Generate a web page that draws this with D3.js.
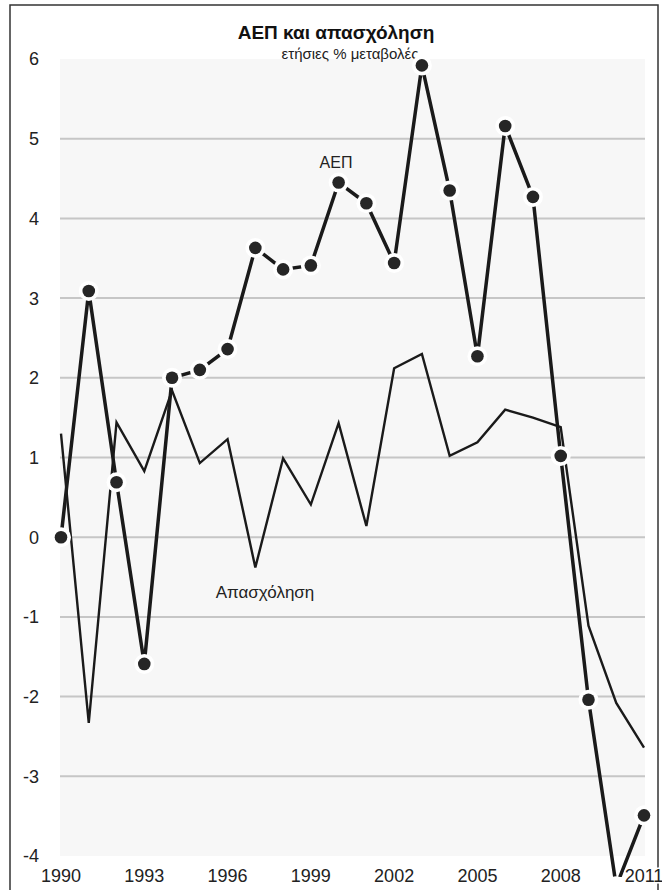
<!DOCTYPE html>
<html>
<head>
<meta charset="utf-8">
<script src="https://cdn.jsdelivr.net/npm/d3@7"></script>
<style>
  body { margin: 0; background: #fff; }
  svg { display: block; font-family: "Liberation Sans", Arial, Helvetica, sans-serif; }
</style>
</head>
<body>
<div id="chart"></div>
<script>
// years on the x axis
const years = [1990, 1991, 1992, 1993, 1994, 1995, 1996, 1997, 1998, 1999, 2000,
               2001, 2002, 2003, 2004, 2005, 2006, 2007, 2008, 2009, 2010, 2011];
// ΑΕΠ, annual % change (line with dots)
const gdp = [0.0, 3.09, 0.69, -1.59, 2.0, 2.1, 2.36, 3.63, 3.36, 3.41, 4.45,
             4.19, 3.44, 5.92, 4.35, 2.27, 5.16, 4.27, 1.02, -2.04, -4.38, -3.49];
// Απασχόληση, annual % change (thin line)
const employment = [1.3, -2.33, 1.44, 0.83, 1.84, 0.93, 1.23, -0.38, 0.99, 0.41, 1.43,
                    0.14, 2.12, 2.3, 1.02, 1.19, 1.6, 1.5, 1.38, -1.11, -2.08, -2.64];
const yTicks = [-4, -3, -2, -1, 0, 1, 2, 3, 4, 5, 6];
const xTicks = [1990, 1993, 1996, 1999, 2002, 2005, 2008, 2011];
const gridValues = [-3, -2, -1, 0, 1, 2, 3, 4, 5];

const width = 662, height = 890;

const svg = d3.select('#chart').append('svg')
    .attr('width', width)
    .attr('height', height);

// outer frame
svg.append('rect')
    .attr('x', 10).attr('y', 5)
    .attr('width', 648).attr('height', 900)
    .attr('fill', '#fff')
    .attr('stroke', '#333')
    .attr('stroke-width', 1.5);

const x = d3.scaleLinear().domain([1990, 2011]).range([61, 644]);
const y = d3.scaleLinear().domain([-4, 6]).range([856, 59]);

// plot background
svg.append('rect')
    .attr('x', 60).attr('y', y(6))
    .attr('width', 645 - 60).attr('height', y(-4) - y(6))
    .attr('fill', '#f7f7f7');

// gridlines
svg.append('g')
    .selectAll('line')
    .data(gridValues)
    .enter()
    .append('line')
    .attr('x1', 60).attr('x2', 645)
    .attr('y1', d => y(d)).attr('y2', d => y(d))
    .attr('stroke', '#c6c6c6')
    .attr('stroke-width', 2);

// y labels
svg.append('g')
    .selectAll('text')
    .data(yTicks)
    .enter()
    .append('text')
    .attr('x', 39)
    .attr('y', d => y(d))
    .attr('dy', '0.36em')
    .attr('text-anchor', 'end')
    .attr('font-size', 18)
    .attr('fill', '#222')
    .text(d => d);

// title
svg.append('text')
    .attr('x', 336).attr('y', 39)
    .attr('text-anchor', 'middle')
    .attr('font-size', 19)
    .attr('font-weight', 'bold')
    .attr('fill', '#111')
    .text('ΑΕΠ και απασχόληση');
svg.append('text')
    .attr('x', 350).attr('y', 58.5)
    .attr('text-anchor', 'middle')
    .attr('font-size', 15)
    .attr('fill', '#222')
    .text('ετήσιες % μεταβολές');

// data layer, clipped above the year labels
svg.append('clipPath').attr('id', 'clip')
    .append('rect').attr('x', 0).attr('y', 0).attr('width', width).attr('height', 877);

const plot = svg.append('g').attr('clip-path', 'url(#clip)');

const empData = years.map((yr, i) => ({ year: yr, value: employment[i] }));
const gdpData = years.map((yr, i) => ({ year: yr, value: gdp[i] }));

const line = d3.line()
    .x(d => x(d.year))
    .y(d => y(d.value));

plot.append('path')
    .datum(empData)
    .attr('d', line)
    .attr('fill', 'none')
    .attr('stroke', '#1a1a1a')
    .attr('stroke-width', 2.4)
    .attr('stroke-linejoin', 'miter');

plot.append('path')
    .datum(gdpData)
    .attr('d', line)
    .attr('fill', 'none')
    .attr('stroke', '#1a1a1a')
    .attr('stroke-width', 3.5);

// white halo round each dot, then the dot
plot.append('g')
    .selectAll('circle')
    .data(gdpData)
    .enter()
    .append('circle')
    .attr('cx', d => x(d.year))
    .attr('cy', d => y(d.value))
    .attr('r', 10)
    .attr('fill', '#fff');

plot.append('g')
    .selectAll('circle')
    .data(gdpData)
    .enter()
    .append('circle')
    .attr('cx', d => x(d.year))
    .attr('cy', d => y(d.value))
    .attr('r', 6.3)
    .attr('fill', '#262626');

// series labels
svg.append('text')
    .attr('x', 336).attr('y', 168)
    .attr('text-anchor', 'middle')
    .attr('font-size', 16)
    .attr('fill', '#222')
    .text('ΑΕΠ');
svg.append('text')
    .attr('x', 265).attr('y', 598)
    .attr('text-anchor', 'middle')
    .attr('font-size', 17)
    .attr('fill', '#222')
    .text('Απασχόληση');

// x labels with a white halo
svg.append('g')
    .selectAll('text')
    .data(xTicks)
    .enter()
    .append('text')
    .attr('x', d => x(d))
    .attr('y', 882)
    .attr('text-anchor', 'middle')
    .attr('font-size', 18)
    .attr('fill', '#222')
    .attr('stroke', '#fff')
    .attr('stroke-width', 3)
    .attr('paint-order', 'stroke')
    .text(d => d);
</script>
</body>
</html>
